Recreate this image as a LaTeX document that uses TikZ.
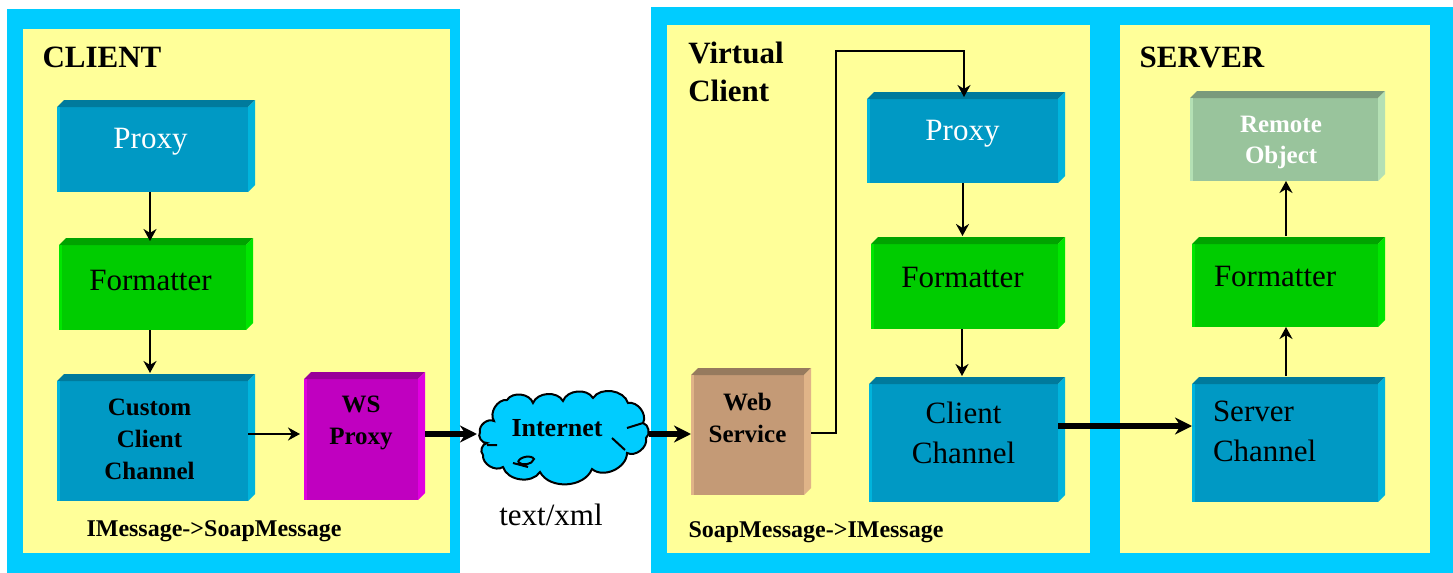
\documentclass[tikz,border=0pt]{standalone}
\usepackage{fontspec}
\setmainfont{Liberation Serif}
\usepackage{tikz}
\usetikzlibrary{positioning}
\usetikzlibrary{arrows.meta}
\usetikzlibrary{calc}
\definecolor{framecol}{HTML}{00CCFF}
\definecolor{panelcol}{HTML}{FFFF99}
\definecolor{bluefront}{HTML}{0099C4}
\definecolor{bluetop}{HTML}{007A9C}
\definecolor{blueside}{HTML}{00B4DC}
\definecolor{greenfront}{HTML}{00CC00}
\definecolor{greentop}{HTML}{00A300}
\definecolor{greenside}{HTML}{00E600}
\definecolor{purplefront}{HTML}{C000C0}
\definecolor{purpletop}{HTML}{990099}
\definecolor{purpleside}{HTML}{E000E0}
\definecolor{tanfront}{HTML}{C49A76}
\definecolor{tantop}{HTML}{967A5E}
\definecolor{tanside}{HTML}{E0B488}
\definecolor{sagefront}{HTML}{99C49C}
\definecolor{sagetop}{HTML}{7A9A7C}
\definecolor{sageside}{HTML}{B4E0B4}
\tikzset{
	frame/.style={fill=framecol,inner sep=0pt,outer sep=0pt},
	panel/.style={fill=panelcol,inner sep=0pt,outer sep=0pt},
	block/.style={inner sep=0pt,outer sep=0pt,align=center},
	lift/.style={text height=11pt,text depth=3.5pt+2*#1},
	plain/.style={font=\fontsize{15.5}{20}\selectfont},
	heavy/.style={font=\fontsize{12.5}{16}\selectfont\bfseries},
	title/.style={font=\fontsize{15.5}{19}\selectfont\bfseries,align=left,inner sep=0pt},
	note/.style={font=\fontsize{12}{14}\selectfont\bfseries,inner sep=0pt},
	thin link/.style={-{Stealth[length=6pt,width=6.5pt]},line width=1pt},
	thick link/.style={-{Stealth[length=8.5pt,width=8.5pt]},line width=2.8pt},
	puff/.style={bend left=65}
}
% top and side of a block
\newcommand{\faces}[2]{%
	\fill[#2top] (#1.north west) -- ++(7,-7) -- ($(#1.north east)+(7,-7)$) -- (#1.north east) -- cycle;
	\fill[#2side] (#1.north east) -- ($(#1.north east)+(7,-7)$) -- ($(#1.south east)+(7,-7)$) -- (#1.south east) -- cycle;
	\fill[#2side] (#1.north west) rectangle ($(#1.south west)+(2.5,0)$);
}
\begin{document}
\begin{tikzpicture}[x=0.5pt,y=-0.5pt]
	\useasboundingbox (0,0) rectangle (1453,573);
	% frames
	\node[frame,minimum width=226.5pt,minimum height=282pt] (clientF) at (233.5,291) {};
	\node[panel,minimum width=213.5pt,minimum height=262pt] (clientP) at (236.5,291) {};
	\node[frame,minimum width=401pt,minimum height=283pt] (serverF) at (1052,290) {};
	\node[panel,minimum width=211.5pt,minimum height=264pt] (virtualP) at (878.5,289) {};
	\node[panel,minimum width=155pt,minimum height=264pt] (serverP) at (1275,289) {};
	\node[title] (clientT) at (102,57) {CLIENT};
	\node[title] (virtualT) at (736,72) {Virtual\\Client};
	\node[title] (serverT) at (1202,57) {SERVER};

	% client side
	\node[block,plain,text=white,fill=bluefront,minimum width=95.5pt,minimum height=42.5pt,lift=4.5pt] (proxyC) at (152.5,149.5) {\hspace*{-2pt}Proxy};
	\node[block,plain,fill=greenfront,minimum width=93.5pt,minimum height=42.5pt,lift=2.5pt] (fmtC) at (152.5,287.5) {\hspace*{-2pt}Formatter};
	\node[block,heavy,fill=bluefront,text width=95.5pt,minimum height=60pt,lift=16.75pt] (customC) at (152.5,441) {\hspace*{-3pt}Custom\\\hspace*{-3pt}Client\\\hspace*{-3pt}Channel};
	\node[block,heavy,fill=purplefront,text width=57pt,minimum height=60.5pt,lift=17.5pt] (wsProxy) at (361,439.5) {WS\\Proxy};
	\node[note] (noteC) at (214,531) {IMessage->SoapMessage};

	% internet
	\filldraw[fill=framecol,draw=black,line width=1pt] (480,432) to[puff] (494,421) to[puff] (507,400) to[puff] (533,403) to[puff] (563,401)
		to[puff] (593,398) to[puff] (628,403) to[puff] (643,423) to[puff] (646,438) to[puff] (627,453) to[puff] (592,469)
		to[puff] (540,472) to[puff] (503,467) to[puff] (483,455) to[puff] (487,443) to[puff] (480,432) -- cycle;
	\draw[line width=1pt] (627,428) -- (643,423) (612,438) -- (625,450) (487,445) -- (497,445) (513,463) -- (528,467)
		(518,462) .. controls (520,456) and (532,455) .. (534,459) .. controls (532,465) and (522,466) .. (518,462);
	\node[inner sep=0pt,outer sep=0pt,minimum width=84pt,minimum height=48pt,lift=4pt,font=\fontsize{13}{16}\selectfont\bfseries] (inet) at (563,437) {\hspace*{-6pt}Internet};
	\node[plain,inner sep=0pt] (xmlT) at (551,515) {text/xml};

	% virtual client
	\node[block,plain,text=white,fill=bluefront,minimum width=95.5pt,minimum height=42pt,lift=4.25pt] (proxyV) at (962.5,141) {Proxy};
	\node[block,plain,fill=greenfront,minimum width=93.5pt,minimum height=42.5pt,lift=3.5pt] (fmtV) at (964.5,286.5) {\hspace*{-2pt}Formatter};
	\node[block,plain,fill=bluefront,text width=94.5pt,minimum height=59pt,lift=13.75pt] (channelV) at (963.5,443) {Client\\Channel};
	\node[block,heavy,fill=tanfront,text width=56.5pt,minimum height=60pt,lift=16.25pt] (webS) at (747.5,435) {Web\\Service};
	\node[note] (noteV) at (816,532) {SoapMessage->IMessage};

	% server
	\node[block,heavy,text=white,fill=sagefront,minimum width=94pt,minimum height=41.5pt,align=left,inner xsep=25pt,text width=44pt,lift=7.5pt] (remoteS) at (1284,139.5) {Remote\\\hspace*{2.5pt}Object};
	\node[block,plain,fill=greenfront,minimum width=93pt,minimum height=41.5pt,align=left,inner xsep=11pt,text width=71pt,lift=3.5pt] (fmtS) at (1285,285.5) {Formatter};
	\node[block,plain,fill=bluefront,minimum width=93pt,minimum height=59pt,align=left,inner xsep=10.5pt,text width=72pt,lift=14.75pt] (channelS) at (1285,443) {Server\\Channel};

	\foreach \name/\tone in {proxyC/blue,fmtC/green,customC/blue,wsProxy/purple,proxyV/blue,fmtV/green,channelV/blue,webS/tan,remoteS/sage,fmtS/green,channelS/blue}
		\faces{\name}{\tone};

	\coordinate (loopTop) at (836,51);

	% links
	\draw[thin link] ([xshift=-1.25pt]proxyC.south) -- ([xshift=-1.25pt,yshift=2pt]fmtC.north);
	\draw[thin link] ([xshift=-1.25pt]fmtC.south) -- ([xshift=-1.25pt,yshift=4pt]customC.north);
	\draw[thin link] ([yshift=3.5pt]customC.east) -- ([xshift=-2pt,yshift=2.75pt]wsProxy.west);
	\draw[thick link] ([xshift=3.5pt,yshift=2.75pt]wsProxy.east) -- ([xshift=-1pt,yshift=1.5pt]inet.west);
	\draw[thick link] ([xshift=1pt,yshift=1.5pt]inet.east) -- ([yshift=0.5pt]webS.west);
	\draw[thin link] ([xshift=3.5pt,yshift=1pt]webS.east) -| (loopTop) -| ([xshift=0.75pt,yshift=1pt]proxyV.north);
	\draw[thin link] (proxyV.south) -- ([yshift=4pt]proxyV.south |- fmtV.north);
	\draw[thin link] ([xshift=-1.25pt]fmtV.south) -- ([xshift=-0.75pt,yshift=4pt]channelV.north);
	\draw[thick link] ([yshift=8.5pt]channelV.east) -- ([yshift=8.5pt]channelS.west);
	\draw[thin link] ([xshift=0.5pt,yshift=4pt]channelS.north) -- ([xshift=0.5pt]fmtS.south);
	\draw[thin link] ([xshift=0.5pt,yshift=4pt]fmtS.north) -- ([xshift=1pt]remoteS.south);
\end{tikzpicture}
\end{document}
